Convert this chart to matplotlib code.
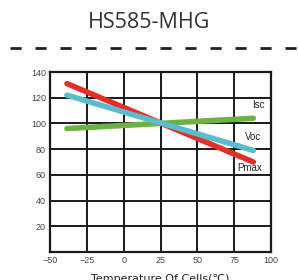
import matplotlib
matplotlib.use("Agg")
import matplotlib.pyplot as plt
import matplotlib.lines as mlines

# Data
temps = [-38.5, 88]
pmax = [131, 70]
voc = [122, 79]
isc = [96, 104]
x_ticks = [-50, -25, 0, 25, 50, 75, 100]
y_ticks = [20, 40, 60, 80, 100, 120, 140]

fig = plt.figure(figsize=(2.98, 2.80), dpi=100)
ax = fig.add_axes([50 / 298, 28 / 280, 221 / 298, 180 / 280])

ax.set_xlim(-50, 100)
ax.set_ylim(0, 140)
ax.set_xticks(x_ticks)
ax.set_yticks(y_ticks)
ax.grid(True, color='#1a1a1a', linewidth=1.4)
ax.set_axisbelow(True)
for s in ax.spines.values():
    s.set_color('#1a1a1a')
    s.set_linewidth(1.6)
ax.tick_params(length=0, labelsize=6.5, labelcolor='#444444', pad=3,
               labelfontfamily='Liberation Sans')

ax.plot(temps, isc, color='#6ab344', linewidth=4, solid_capstyle='round')
ax.plot(temps, pmax, color='#e0302a', linewidth=4, solid_capstyle='round')
ax.plot(temps, voc, color='#5bbccc', linewidth=4, solid_capstyle='round')

ax.text(87, 112, 'Isc', fontsize=7, family='Liberation Sans', color='#222222')
ax.text(82, 87, 'Voc', fontsize=7, family='Liberation Sans', color='#222222')
ax.text(77, 63, 'Pmax', fontsize=7, family='Liberation Sans', color='#222222')

ax.set_xlabel('Temperature Of Cells(℃)', fontsize=8, color='#222222', labelpad=6)

fig.text(0.5, 1 - 23 / 280, 'HS585-MHG', ha='center', va='center',
         fontsize=15.5, family='Open Sans', color='#333333')
fig.add_artist(mlines.Line2D([10 / 298, 1], [1 - 48 / 280] * 2, color='#222222',
                             linewidth=2, linestyle=(0, (4, 5))))

fig.savefig('out.png', dpi=100)
